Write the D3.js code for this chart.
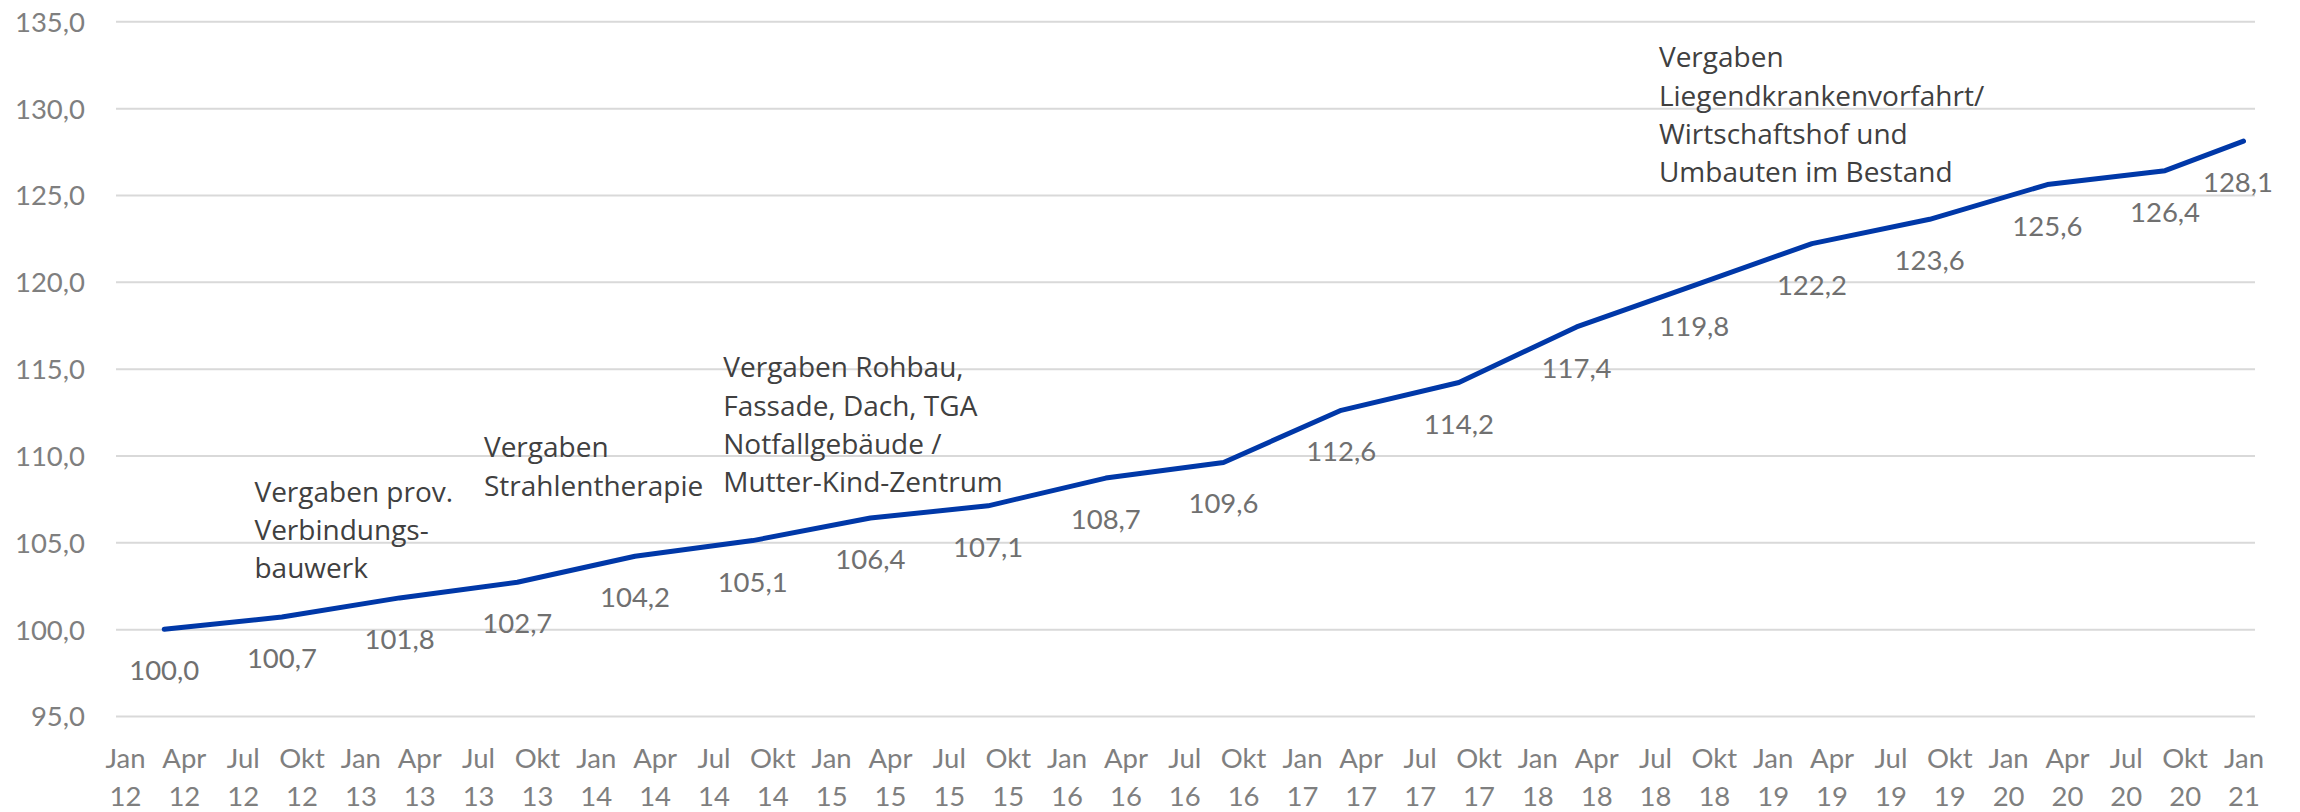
<!DOCTYPE html>
<html lang="de">
<head>
<meta charset="UTF-8">
<title>Index</title>
<script src="https://d3js.org/d3.v7.min.js"></script>
<style>
  body { margin: 0; background: #fff; }
  .num { font-family: Lato, "Open Sans", sans-serif; font-size: 27.5px; }
  .note { font-family: "Open Sans", sans-serif; font-size: 28px; fill: #404040; }
</style>
</head>
<body>
<div id="chart"></div>
<script>
// semi-annual index values (Jan 2012 = 100)
var pointDates = ["2012-03","2012-09","2013-03","2013-09","2014-03","2014-09","2015-03","2015-09",
  "2016-03","2016-09","2017-03","2017-09","2018-03","2018-09","2019-03","2019-09","2020-03","2020-09","2021-01"];
var values = [100.0,100.7,101.8,102.7,104.2,105.1,106.4,107.1,108.7,109.6,112.6,114.2,117.4,119.8,122.2,123.6,125.6,126.4,128.1];

var quarterNames = ["Jan","Apr","Jul","Okt"];
var yearLabels = ["12","13","14","15","16","17","18","19","20","21"];
var yTicks = [95,100,105,110,115,120,125,130,135];

// annotation anchors: month offset from Jan 2012, value of first baseline
var noteMonths = [6.6, 18.3, 30.5, 78.2];
var noteValues = [107.35, 109.9, 114.5, 132.35];
var noteLines = [
  ["Vergaben prov.","Verbindungs-","bauwerk"],
  ["Vergaben","Strahlentherapie"],
  ["Vergaben Rohbau,","Fassade, Dach, TGA","Notfallgebäude /","Mutter-Kind-Zentrum"],
  ["Vergaben","Liegendkrankenvorfahrt/","Wirtschaftshof und","Umbauten im Bestand"]
];

var W = 2300, H = 812;
function monthIdx(s) { var p = s.split("-"); return (+p[0] - 2012) * 12 + (+p[1] - 1); }

var tickMonths = [], tickText = [];
yearLabels.forEach(function(y, yi) {
  quarterNames.forEach(function(q, qi) {
    if (yi === yearLabels.length - 1 && qi > 0) return;
    tickMonths.push(yi * 12 + qi * 3);
    tickText.push([q, y]);
  });
});

var x = d3.scaleLinear().domain([0, 108]).range([125, 2243.5]);
var y = d3.scaleLinear().domain([95, 135]).range([716, 21.3]);
var gridLeft = 116, gridRight = 2255;

var de = d3.formatLocale({decimal: ",", thousands: ".", grouping: [3], currency: ["", " €"]});
var fmt = de.format(".1f");

var svg = d3.select("#chart").append("svg").attr("width", W).attr("height", H);

// y axis + gridlines
var yAxis = svg.append("g")
  .attr("transform", "translate(" + gridLeft + ",0)")
  .call(d3.axisLeft(y).tickValues(yTicks).tickFormat(fmt)
    .tickSize(-(gridRight - gridLeft)).tickPadding(31));
yAxis.select(".domain").remove();
yAxis.selectAll("line").attr("stroke", "#d9d9d9").attr("stroke-width", 2);
yAxis.selectAll("text").attr("class", "num").attr("fill", "#7f7f7f").attr("dy", "0.36em");

// x axis with two-line labels
var xAxis = svg.append("g")
  .attr("transform", "translate(0,768)")
  .call(d3.axisBottom(x).tickValues(tickMonths).tickSize(0).tickPadding(0).tickFormat(""));
xAxis.select(".domain").remove();
xAxis.selectAll("text").each(function(d, i) {
  var t = d3.select(this).attr("class", "num").attr("fill", "#7f7f7f").attr("y", 0).attr("dy", null);
  t.append("tspan").attr("x", 0).attr("y", 0).text(tickText[i][0]);
  t.append("tspan").attr("x", 0).attr("y", 38).text(tickText[i][1]);
});

var data = pointDates.map(function(d, i) { return {m: monthIdx(d), v: values[i]}; });

svg.append("path")
  .datum(data)
  .attr("fill", "none")
  .attr("stroke", "#0038a8")
  .attr("stroke-width", 5)
  .attr("stroke-linejoin", "round")
  .attr("stroke-linecap", "round")
  .attr("d", d3.line().x(function(d) { return x(d.m); }).y(function(d) { return y(d.v); }));

svg.selectAll(".lbl")
  .data(data)
  .enter().append("text")
  .attr("class", "num lbl")
  .attr("fill", "#707070")
  .attr("text-anchor", "middle")
  .attr("x", function(d) { return Math.min(x(d.m), W - 62); })
  .attr("y", function(d) { return y(d.v) + 51; })
  .text(function(d) { return fmt(d.v); });

// annotations
noteLines.forEach(function(lines, k) {
  var nx = x(noteMonths[k]), ny = y(noteValues[k]);
  var t = svg.append("text").attr("class", "note").attr("x", nx).attr("y", ny);
  lines.forEach(function(l, i) {
    t.append("tspan").attr("x", nx).attr("y", ny + i * 38.3).text(l);
  });
});
</script>
</body>
</html>
